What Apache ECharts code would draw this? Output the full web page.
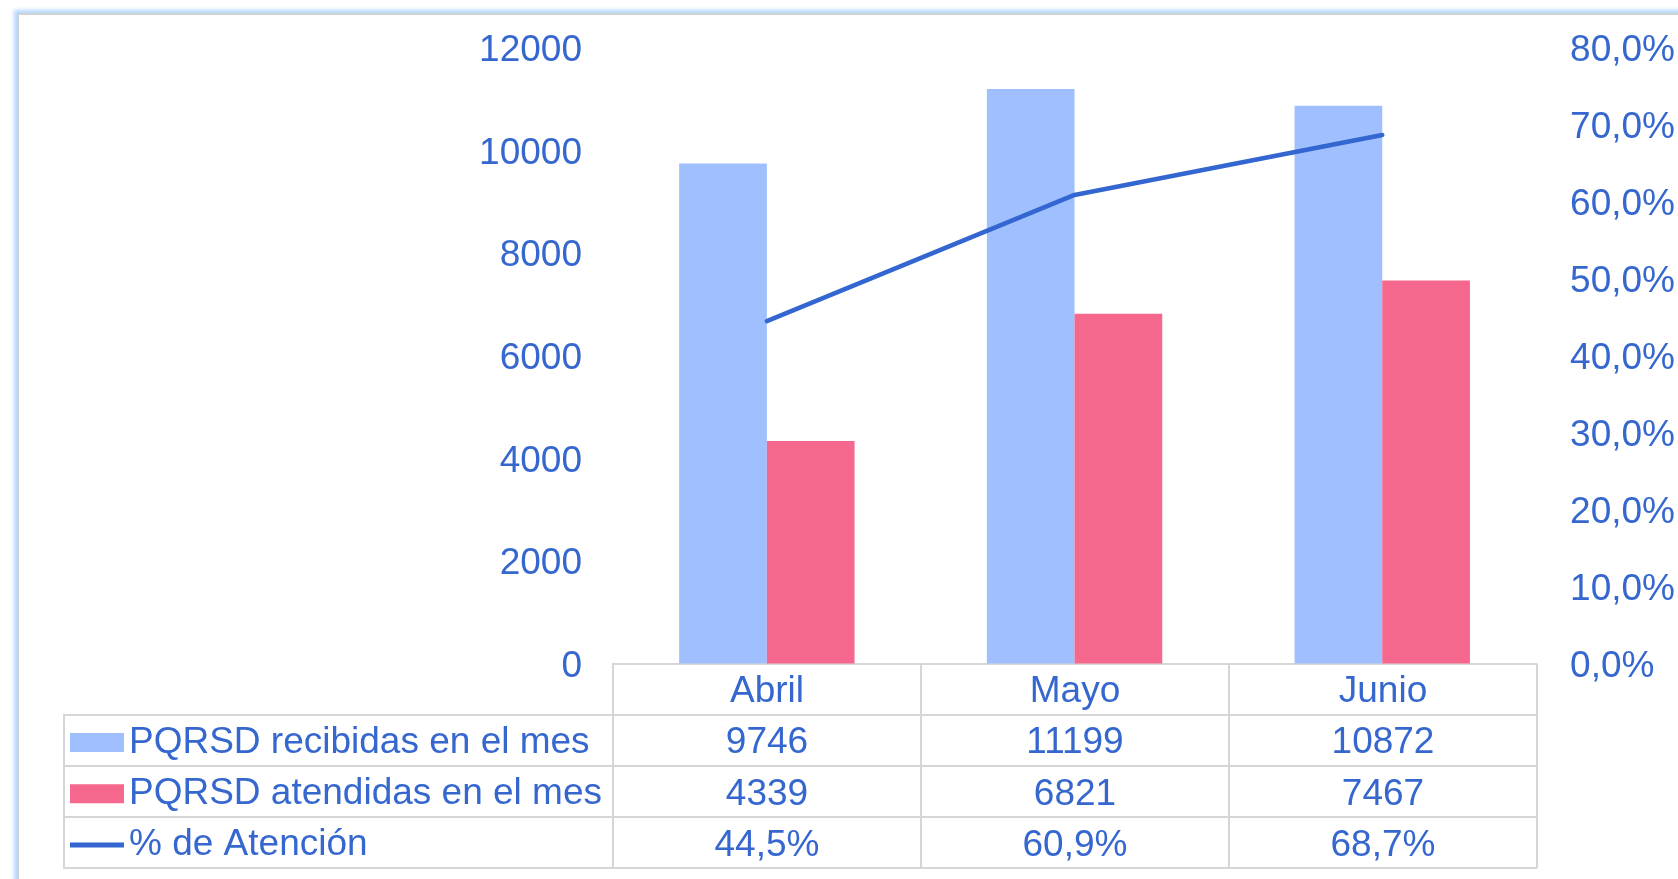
<!DOCTYPE html>
<html>
<head>
<meta charset="utf-8">
<script src="https://cdn.jsdelivr.net/npm/echarts@6/dist/echarts.min.js"></script>
<style>
  html, body { margin: 0; padding: 0; background: #ffffff; overflow: hidden; }
  #frame { position: absolute; left: 17px; top: 13px; width: 2000px; height: 1200px;
           border-left: 2px solid #d2d2d2; border-top: 2px solid #d2d2d2;
           box-shadow: 0 0 4px 3px #b3d6ff; background: #fff; }
  #chart { position: absolute; left: 0; top: 0; width: 1678px; height: 879px; }
</style>
</head>
<body>
<div id="frame"></div>
<div id="chart"></div>
<script>
// ---- data ----
const categories = ['Abril', 'Mayo', 'Junio'];
const recibidas = [9746, 11199, 10872];
const atendidas = [4339, 6821, 7467];
const atencion = [0.445, 0.609, 0.687];
const seriesNames = ['PQRSD recibidas en el mes', 'PQRSD atendidas en el mes', '% de Atención'];
const leftTicks = { min: 0, max: 12000, interval: 2000 };
const rightTicks = { min: 0, max: 0.8, interval: 0.1 };

// ---- styles ----
const FONT = "'Liberation Sans', Arial, sans-serif";
const TXT = '#3567cf';
const BLUE = '#9fbfff';
const PINK = '#f5678d';
const LINE = '#3366d0';
const GRIDC = '#d6d6d6';

function pct(v) { return (v * 100).toFixed(1).replace('.', ',') + '%'; }

// table cells built from the data arrays
const rowKeys = ['h', 'r1', 'r2', 'r3'];
const cells = [];
categories.forEach((c, i) => {
  cells.push([c, 'h', c]);
  cells.push([c, 'r1', String(recibidas[i])]);
  cells.push([c, 'r2', String(atendidas[i])]);
  cells.push([c, 'r3', pct(atencion[i])]);
});

const chart = echarts.init(document.getElementById('chart'), null, { renderer: 'canvas' });
chart.setOption({
  animation: false,
  backgroundColor: 'transparent',
  textStyle: { fontFamily: FONT },
  legend: {
    data: [
      { name: seriesNames[0], icon: 'rect' },
      { name: seriesNames[1], icon: 'rect' },
      { name: seriesNames[2], icon: 'path://M0,0H56V5H0Z' }
    ],
    orient: 'vertical',
    left: 70, top: 717,
    padding: 0, itemGap: 0,
    itemWidth: 54, itemHeight: 19,
    textStyle: { fontSize: 37, color: TXT, fontFamily: FONT, lineHeight: 51.2 },
    selectedMode: false
  },
  grid: [
    { left: 613, right: 141, top: 48, bottom: 215.5 },
    { left: 613, right: 141, top: 663.5, bottom: 11 },
    { left: 64, right: 1065, top: 714.6, bottom: 11 }
  ],
  xAxis: [
    { type: 'category', data: categories, gridIndex: 0, show: false },
    { type: 'category', data: categories, gridIndex: 1, boundaryGap: true,
      axisLine: { show: false }, axisTick: { show: false }, axisLabel: { show: false },
      splitLine: { show: true, lineStyle: { color: GRIDC, width: 2 } } },
    { type: 'value', gridIndex: 2, show: false, min: 0, max: 1 }
  ],
  yAxis: [
    { type: 'value', gridIndex: 0, min: leftTicks.min, max: leftTicks.max, interval: leftTicks.interval,
      axisLine: { show: false }, axisTick: { show: false }, splitLine: { show: false },
      axisLabel: { fontSize: 37, color: TXT, fontFamily: FONT, margin: 31,
                   verticalAlign: 'top', lineHeight: 6,
                   formatter: v => String(v) } },
    { type: 'value', gridIndex: 0, position: 'right', min: rightTicks.min, max: rightTicks.max, interval: rightTicks.interval,
      axisLine: { show: false }, axisTick: { show: false }, splitLine: { show: false },
      axisLabel: { fontSize: 37, color: TXT, fontFamily: FONT, margin: 34,
                   verticalAlign: 'top', lineHeight: 6,
                   formatter: v => pct(v) } },
    { type: 'category', gridIndex: 1, data: rowKeys, inverse: true, boundaryGap: true,
      axisLine: { show: true, lineStyle: { color: GRIDC, width: 2 } }, axisTick: { show: false },
      axisLabel: { show: false },
      splitLine: { show: true, lineStyle: { color: GRIDC, width: 2 } } },
    { type: 'category', gridIndex: 2, data: ['r1', 'r2', 'r3'], inverse: true, boundaryGap: true,
      axisLine: { show: true, lineStyle: { color: GRIDC, width: 2 } }, axisTick: { show: false },
      axisLabel: { show: false },
      splitLine: { show: true, lineStyle: { color: GRIDC, width: 2 } } }
  ],
  series: [
    { name: seriesNames[0], type: 'bar', xAxisIndex: 0, yAxisIndex: 0, data: recibidas,
      itemStyle: { color: BLUE }, barGap: '0%', barCategoryGap: '43%' },
    { name: seriesNames[1], type: 'bar', xAxisIndex: 0, yAxisIndex: 0, data: atendidas,
      itemStyle: { color: PINK }, barGap: '0%', barCategoryGap: '43%' },
    { name: seriesNames[2], type: 'line', xAxisIndex: 0, yAxisIndex: 1, data: atencion,
      symbol: 'none', showSymbol: false, itemStyle: { color: LINE },
      lineStyle: { color: LINE, width: 4.5, cap: 'round' }, z: 5 },
    { name: 'tabla', type: 'scatter', xAxisIndex: 1, yAxisIndex: 2, data: cells,
      symbolSize: 0, silent: true, itemStyle: { opacity: 1 },
      label: { show: true, position: 'inside', offset: [0, 3], formatter: p => p.value[2],
               fontSize: 37, color: TXT, fontFamily: FONT } }
  ]
});
</script>
</body>
</html>
